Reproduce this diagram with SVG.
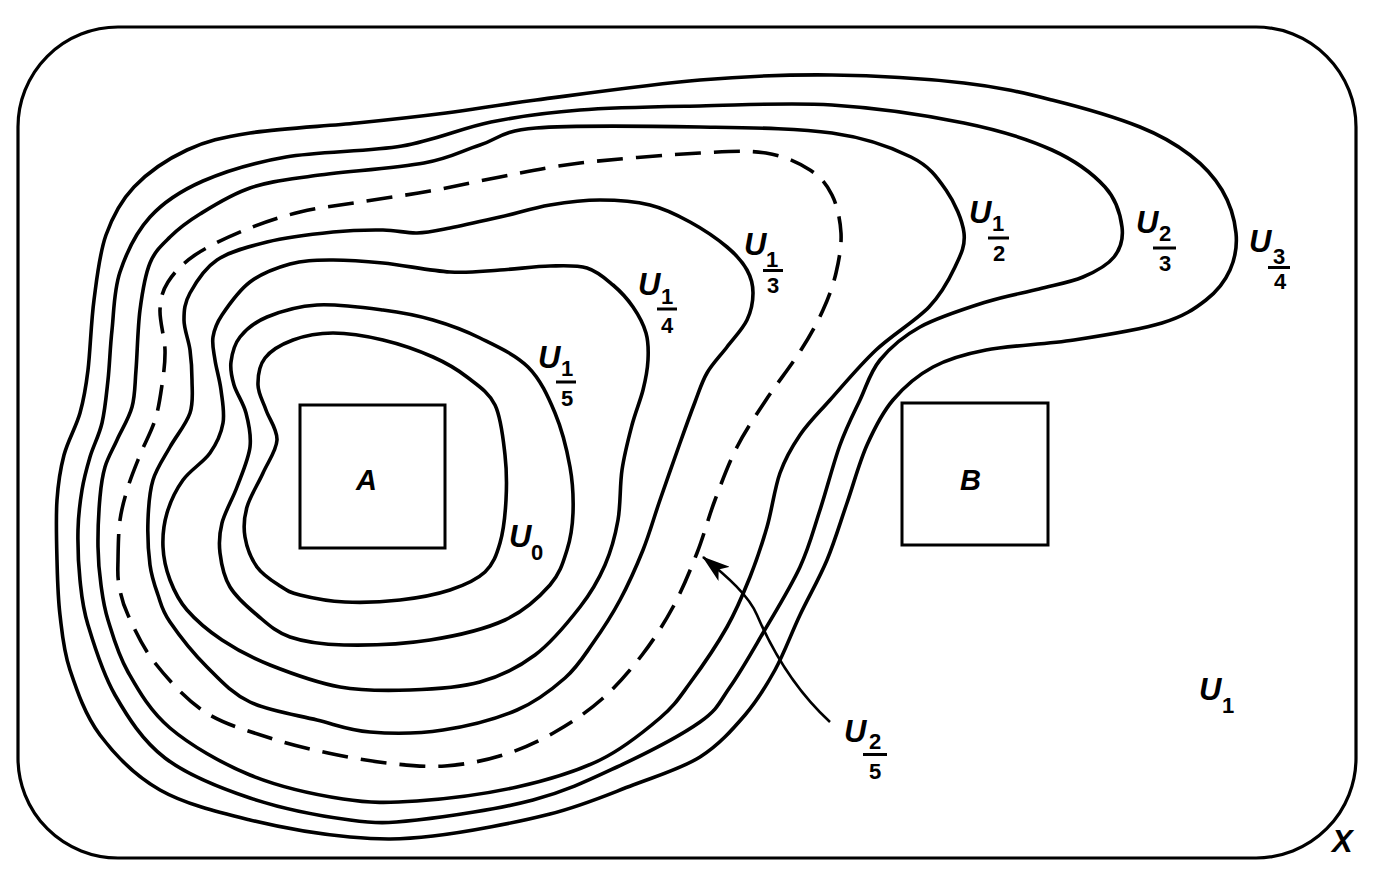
<svg xmlns="http://www.w3.org/2000/svg" width="1390" height="888" viewBox="0 0 1390 888">
<style>
.frame{fill:none;stroke:#000;stroke-width:3.2}
.box{fill:none;stroke:#000;stroke-width:3}
.c{fill:none;stroke:#000;stroke-width:3.6;stroke-linejoin:round}
.dash{stroke-dasharray:26 13}
.bar{stroke:#000;stroke-width:3}
.arrow{fill:none;stroke:#000;stroke-width:2.6}
text{font-family:"Liberation Sans",Arial,Helvetica,sans-serif;font-weight:bold;fill:#000}
.U{font-size:31px;font-style:italic}
.d{font-size:22px;text-anchor:middle}
.s{font-size:22px}
.box-l{font-size:29px;font-style:italic}
</style>
<defs>
<marker id="ah" markerUnits="userSpaceOnUse" markerWidth="28" markerHeight="18" viewBox="0 0 28 18" refX="27" refY="9" orient="auto">
<path d="M0,0 L28,9 L0,18 L7,9 Z" fill="#000"/>
</marker>
</defs>
<rect id="X" class="frame" x="18" y="27" width="1338" height="831" rx="100" ry="100"/>

<g id="U3_4">
<path class="c" d="M57,560 C56.5,540.8 55.8,517.5 57,500 S60.2,469.5 64,455 S76,427.2 80,413 S85.7,388.8 88,370 S91,322.5 94,300 S99.3,253.8 106,235 S120.5,201.2 134,187 S167.7,159 187,150 S221.7,137.5 250,133 S324.3,126.3 357,123 S416.2,116.8 446,113 S493.7,105.5 536,100 S650.7,84.2 700,80 S788,74.5 832,75 S927.3,78.8 964,83 S1022.7,92.7 1052,100 S1117,117.8 1140,127 S1176.3,144.5 1190,155 S1214.3,177 1222,190 S1234.7,219.7 1236,233 S1235,258.8 1230,270 S1217.3,291.2 1206,300 S1184,316.3 1162,323 S1103.3,335.5 1074,340 S1009.5,345.5 986,350 S948.5,358.7 933,367 S904,387 893,400 S874.7,427.8 867,445 S853.7,483.8 847,503 S834.8,541.3 827,560 S808.7,596.7 800,615 S784.2,653.3 775,670 S757.5,700.5 745,715 S718.7,745.3 700,757 S658,775.5 633,785 S583.3,805.5 550,814 S466.3,832.2 433,836 S380.5,839.7 350,837 S281.7,827.8 250,820 S185,804.2 160,790 S115,755 100,735 S76.7,690 70,670 S62.2,633.3 60,615 S57.5,579.2 57,560 Z"/>
<text class="U" x="1249" y="252">U</text>
<text class="d" x="1279" y="264">3</text>
<line class="bar" x1="1268" y1="267.5" x2="1290" y2="267.5"/>
<text class="d" x="1280" y="289">4</text>
</g>

<g id="U2_3">
<path class="c" d="M78,530 C78.3,515 80,502.2 82,490 S86.7,468.2 90,457 S99,435.8 102,423 S106.3,395.5 108,380 S110,348 112,330 S113.7,290.8 120,272 S136.2,232.2 150,217 S180.3,191 203,181 S252.8,162.8 286,157 S367.8,151.8 402,146 S461.3,128 491,122 S545.2,112.7 580,110 S658,106.8 700,106 S788,102.2 832,105 S927.3,115.5 964,123 S1028.5,139.3 1052,150 S1093.3,174.2 1105,187 S1120.5,215.3 1122,227 S1120.5,248.7 1114,257 S1095.5,271.7 1083,277 S1055.2,284.8 1039,289 S1005.8,295.7 986,302 S937.7,317.3 920,327 S890,347.8 880,360 S866.7,385.8 860,400 S846.7,426.7 840,445 S826.7,489.7 820,510 S809.5,546.5 800,567 S774.7,613 763,633 S740.5,672.2 730,687 S718.8,708.7 700,722 S644.8,754 617,767 S566.3,791.2 533,800 S447.5,816.7 417,820 S377.8,823.7 350,820 S280.8,808.3 250,798 S187.5,775.2 165,758 S127.8,717.2 115,695 S93.8,644.2 88,625 S81.7,595.8 80,580 S77.7,545 78,530 Z"/>
<text class="U" x="1136" y="233">U</text>
<text class="d" x="1165" y="241">2</text>
<line class="bar" x1="1153" y1="248" x2="1176" y2="248"/>
<text class="d" x="1165" y="271">3</text>
</g>

<g id="U1_2">
<path class="c" d="M98,547 C97.8,532.3 98.8,510.3 100,497 S102.2,476.5 105,467 S112.5,450 117,440 S128.8,418.7 132,407 S134.7,386.2 136,370 S137.7,327.8 140,310 S145,275.2 150,263 S161.7,245.2 170,237 S186.7,222.2 200,214 S231.3,194.3 250,188 S283,180.2 312,176 S396,168.2 424,163 S461.3,150.8 480,145 S499.3,131 536,128 S650.7,126.2 700,127 S796.8,128 832,133 S892,147.5 911,157 S937.2,177.3 946,190 S962.5,220.2 964,233 S960.8,254.7 955,267 S942.2,293.2 929,307 S892.5,334.5 876,350 S842.7,385.8 830,400 S808.3,422.8 800,435 S785.5,457.7 780,473 S772,509.7 767,527 S756.7,560.3 750,577 S737,609.3 727,627 S701.2,667.8 690,683 S675,705.2 660,718 S623.8,748.5 600,760 S547.5,780.2 517,787 S446,799 417,801 S370.8,803.3 343,799 S278.8,786.8 250,775 S190.3,745.2 170,728 S138.3,690 128,672 S112.5,634.5 108,620 S102.7,597.2 101,585 S98.2,561.7 98,547 Z"/>
<text class="U" x="969" y="223">U</text>
<text class="d" x="998" y="231">1</text>
<line class="bar" x1="988" y1="238" x2="1009" y2="238"/>
<text class="d" x="999" y="261">2</text>
</g>

<g id="U2_5">
<path class="c dash" d="M118,560 C118.2,549.2 118.3,532.2 120,520 S124.7,497.8 128,487 S135.5,466.2 140,455 S151.3,431.7 155,420 S160.3,396.7 162,385 S165.3,362.5 165,350 S159.5,321.3 160,310 S162.2,291.2 168,282 S182.2,263.7 195,255 S227.5,237.2 245,230 S280.8,216.7 300,212 S338.3,205.5 360,202 S406.7,195.2 430,191 S475,181.7 500,177 S546.7,167 580,163 S669,154.7 700,153 S747.7,150.2 766,153 S799,163 810,170 S826.8,184.5 832,195 S840.3,220 841,233 S839,260.2 836,273 S828.8,297.2 823,310 S810.5,335 801,350 S776.7,383.8 766,400 S745.5,430.3 737,447 S721.7,482.3 715,500 S704,535.2 697,553 S682.2,590 673,607 S653.8,639.7 642,655 S616.5,686.2 602,699 S571.5,722.7 555,732 S521.3,749.3 503,755 S464.3,764.7 445,766 S406.5,765.2 387,763 S347.5,757.2 328,753 S290.5,744.8 270,738 S224.2,724.5 205,712 S167.8,679.2 155,663 S134,628 128,615 S120.7,594.2 119,585 S117.8,570.8 118,560 Z"/>
<text class="U" x="844" y="742">U</text>
<text class="d" x="875" y="749">2</text>
<line class="bar" x1="863" y1="754.5" x2="887" y2="754.5"/>
<text class="d" x="875" y="779">5</text>
</g>

<g id="U1_3">
<path class="c" d="M148,520 C148.5,505.8 149.3,492.2 153,480 S163.8,458.2 170,447 S186.3,424.2 190,413 S192,390.5 192,380 S191.3,360 190,350 S184,329.5 184,320 S184.5,303 190,293 S204.2,268.5 217,260 S247.7,246.7 267,242 S313.7,234 333,232 S369,229.8 383,230 S405.8,233.3 417,233 S436.2,230.7 450,228 S483.3,220.8 500,217 S533.3,207.8 550,205 S583.3,200 600,200 S635,201.3 650,205 S677.2,215 690,222 S717.5,239 727,247 S742.7,262.3 747,270 S753,284.7 753,293 S751.3,311 747,320 S733.7,338.2 727,347 S712.3,363.8 707,373 S699.5,390.3 695,402 S685.8,426.7 680,443 S666.2,482.2 660,500 S649.7,533.3 643,550 S628.3,584.5 620,600 S602.2,630 593,643 S577.7,666.8 565,678 S537.3,701.3 517,710 S467.5,726.3 443,730 S391,733.7 370,732 S337,725 317,720 S268.3,710.8 250,702 S220.3,680.3 207,667 S178.2,634 170,622 S161.3,604.5 158,595 S151.7,577.5 150,565 S147.5,534.2 148,520 Z"/>
<text class="U" x="744" y="255">U</text>
<text class="d" x="772" y="267">1</text>
<line class="bar" x1="763" y1="270.5" x2="783" y2="270.5"/>
<text class="d" x="773" y="293">3</text>
</g>

<g id="U1_4">
<path class="c" d="M163,547 C162.5,535.8 163.7,524.2 167,513 S175.8,490 183,480 S203.3,462.5 210,453 S221.2,433.5 223,423 S222.3,400.5 221,390 S216.3,368.8 215,360 S211.8,344.5 213,337 S215.8,324.2 222,315 S238.7,290.5 250,282 S276.7,267.7 290,264 S314.5,260.2 330,260 S363,261 383,263 S430.5,270.8 450,272 S483.3,271 500,270 S535.5,266.3 550,266 S576.5,264.8 587,268 S605.3,278.5 613,285 S627.5,299 633,307 S643.5,324.2 646,333 S648.5,350.5 648,360 S645.7,379.2 643,390 S635.5,411.7 632,425 S624.3,454.2 622,470 S620.8,504.2 618,520 S611.3,550.5 605,565 S591.7,592 580,607 S551.7,642.5 535,655 S500.8,676.2 480,682 S433.3,689.2 410,690 S363.3,691.2 340,687 S289.7,672.8 270,665 S235.8,649.2 222,640 S195.7,620 187,610 S174,590.5 170,580 S163.5,558.2 163,547 Z"/>
<text class="U" x="638" y="295">U</text>
<text class="d" x="667" y="304">1</text>
<line class="bar" x1="657" y1="309" x2="677" y2="309"/>
<text class="d" x="667" y="333">4</text>
</g>

<g id="U1_5">
<path class="c" d="M220,553 C218.7,542.3 219.2,534 222,523 S232.3,499.7 237,487 S248.5,459.3 250,447 S248.7,423.3 246,413 S236.5,393.5 234,385 S230,370 231,362 S234,344.5 240,337 S254.2,322.3 267,317 S297.7,306.2 317,305 S363.7,307.5 383,310 S416.8,315.3 433,320 S464.2,330.2 480,338 S515.5,354.5 528,367 S548,396.3 555,413 S567,450.3 570,467 S573.5,499.2 573,513 S570.8,538 567,550 S560.3,573.3 550,585 S525,610.8 505,620 S456.8,635.8 430,640 S367.3,645.5 344,645 S304.5,642 290,637 S267,623.3 257,615 S236.2,597.3 230,587 S221.3,563.7 220,553 Z"/>
<text class="U" x="538" y="368">U</text>
<text class="d" x="567" y="376">1</text>
<line class="bar" x1="556" y1="382" x2="576" y2="382"/>
<text class="d" x="567" y="406">5</text>
</g>

<g id="U0">
<path class="c" d="M245,537 C243.3,527 244,517.7 247,507 S258,484.2 263,473 S276.5,450.5 277,440 S269.2,419.2 266,410 S258.2,393.7 258,385 S259.2,365.5 265,358 S281.7,344.2 293,340 S318,333 333,333 S366.3,336 383,340 S419,350.8 433,357 S456.7,369 467,377 S488.7,392 495,405 S503.2,439.2 505,455 S506.8,485.3 506,500 S503.5,531 500,543 S493.3,564.2 485,572 S464.2,585.3 450,590 S417.5,598 400,600 S361.7,602.8 345,602 S310.8,597.7 300,595 S287.2,590.7 280,586 S262.8,575.2 257,567 S246.7,547 245,537 Z"/>
<text class="U" x="509" y="547">U</text>
<text class="s" x="531" y="560">0</text>
</g>

<g id="A">
<rect class="box" x="300" y="405" width="145" height="143"/>
<text class="box-l" x="356" y="490">A</text>
</g>

<g id="B">
<rect class="box" x="902" y="403" width="146" height="142"/>
<text class="box-l" x="960" y="490">B</text>
</g>

<g id="U1">
<text class="U" x="1199" y="700">U</text>
<text class="s" x="1222" y="713">1</text>
</g>

<g id="X-label">
<text class="U" x="1332" y="852">X</text>
</g>

<g id="connectors">
<path class="arrow" d="M830,722 C795,690 772,650 757,615 C749,596 728,577 703,557" marker-end="url(#ah)"/>
</g>
</svg>
